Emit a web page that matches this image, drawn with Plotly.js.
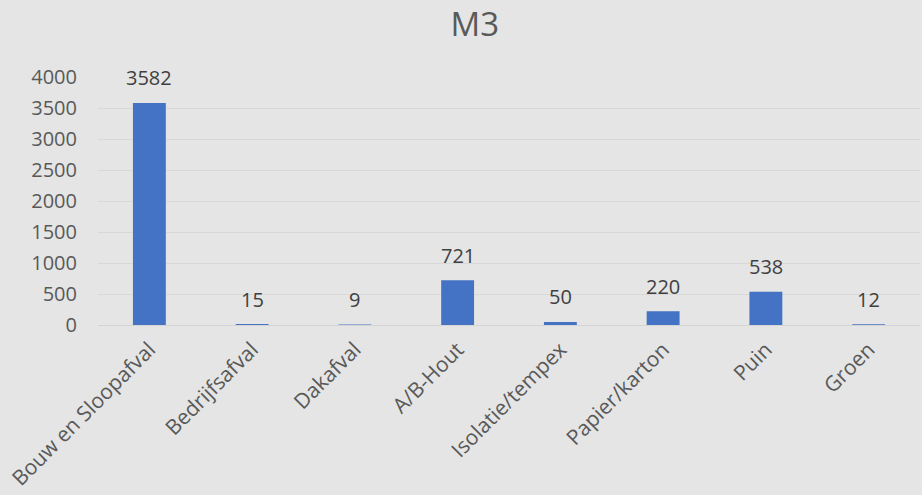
<!DOCTYPE html>
<html><head><meta charset="utf-8">
<script src="https://cdn.plot.ly/plotly-3.0.1.min.js"></script>
<style>html,body{margin:0;padding:0;background:#e4e5e4;}</style>
</head><body>
<div id="chart" style="width:922px;height:495px;"></div>
<script>
const categories = ["Bouw en Sloopafval","Bedrijfsafval","Dakafval","A/B-Hout","Isolatie/tempex","Papier/karton","Puin","Groen"];
const values = [3582, 15, 9, 721, 50, 220, 538, 12];
const yTicks = [0,500,1000,1500,2000,2500,3000,3500,4000];

const FONT = "Open Sans, Noto Sans, sans-serif";

const labelAnnotations = categories.map((c, i) => ({
  x: c, y: values[i], xref: "x", yref: "y",
  text: String(values[i]),
  showarrow: false,
  xanchor: "center", yanchor: "middle",
  yshift: 25,
  font: {family: FONT, size: 20, color: "#404040"}
}));

Plotly.newPlot("chart", [{
  type: "bar",
  x: categories,
  y: values,
  marker: {color: "#4472c4"},
  width: 0.32,
  hoverinfo: "x+y"
}], {
  width: 922, height: 495,
  paper_bgcolor: "#e4e5e4",
  plot_bgcolor: "#e4e5e4",
  margin: {l: 98, r: 2, t: 77, b: 170},
  title: {text: "M3", x: 0.515, xanchor: "center", y: 0.95, yanchor: "middle",
          font: {family: FONT, size: 33, color: "#595959"}},
  showlegend: false,
  annotations: labelAnnotations,
  xaxis: {
    type: "category",
    tickangle: -45,
    tickfont: {family: FONT, size: 21, color: "#595959"},
    showgrid: false,
    showline: true, linecolor: "#d4d4d4", linewidth: 1,
    ticks: "",
    ticklabelstandoff: 3,
    automargin: false
  },
  yaxis: {
    range: [0, 4000],
    tickvals: yTicks,
    ticktext: yTicks.map(String),
    tickfont: {family: FONT, size: 20, color: "#595959"},
    showgrid: true, gridcolor: "#d8d8d8", gridwidth: 1,
    zeroline: false, showline: false,
    ticks: "", ticklen: 0, ticklabelstandoff: 20,
    automargin: false
  }
}, {displayModeBar: false, staticPlot: true});
</script>
</body></html>
